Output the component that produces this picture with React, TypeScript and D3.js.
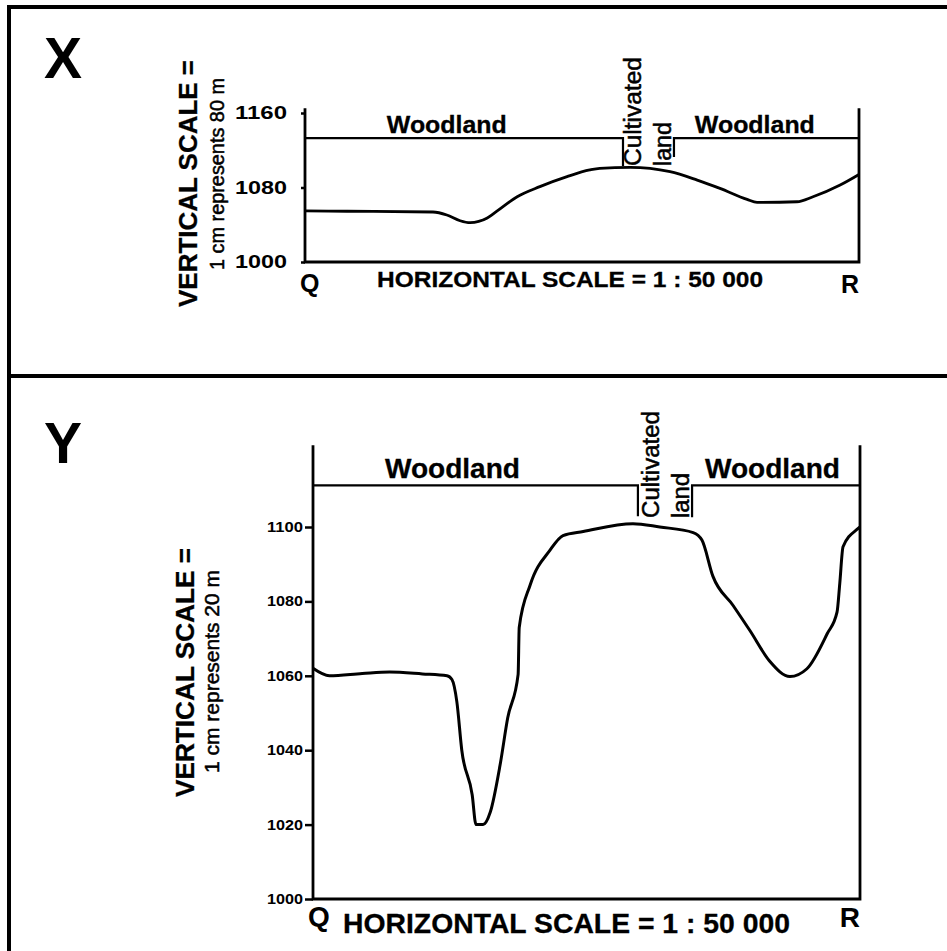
import React, { useEffect, useRef } from "react";
import * as d3 from "d3";

// distance along Q -> R in percent of section length, elevation in metres
const topDistance = [0, 7.6, 23.1, 25.6, 28, 29.8, 32.9, 34.7, 38.3, 42.4, 47.3, 51.4, 53.2, 58.7, 65.9, 70.8, 74.9, 79.8, 81.6, 88.8, 91.7, 96.6, 100];
const topElevation = [1055, 1054.5, 1053.7, 1050.5, 1044.3, 1042.2, 1047.2, 1054.8, 1070.1, 1080.9, 1091.6, 1098.8, 1100.6, 1101.7, 1097, 1088, 1079.1, 1067.3, 1064.1, 1064.7, 1070.1, 1082.7, 1094];

const bottomDistance = [0, 3, 9, 14, 20, 24.5, 25.4, 26.3, 27.2, 29.1, 29.8, 31.1, 32.4, 34.2, 35.6, 37.5, 37.7, 39.7, 43.3, 45.7, 49.4, 58.5, 63.4, 69.5, 71.1, 73.1, 76.8, 79.9, 83.5, 87.2, 90.3, 94, 95.8, 96.3, 96.9, 99.5, 100];
const bottomElevation = [1062, 1060, 1060.6, 1061, 1060.5, 1060, 1059, 1053, 1040, 1028, 1020, 1020, 1023.3, 1036, 1048.7, 1060.4, 1073, 1084.4, 1093.7, 1097.7, 1098.8, 1100.9, 1100, 1098.5, 1096.5, 1086.8, 1078.9, 1072.1, 1063.9, 1059.8, 1061.9, 1071.3, 1077.1, 1084.8, 1094.7, 1099.4, 1100];

const topTicks = [1000, 1080, 1160];
const bottomTicks = [1000, 1020, 1040, 1060, 1080, 1100];

// where woodland / cultivated land change along the section (percent)
const topLandBreaks = [57.4, 66.6];
const bottomLandBreaks = [59.4, 69.3];
const landLabels = ["Woodland", "Cultivated", "land", "Woodland"];

const FONT = "'Liberation Sans', Arial, Helvetica, sans-serif";

interface PanelConfig {
  letter: string;
  letterY: number;
  distance: number[];
  elevation: number[];
  ticks: number[];
  yDomain: [number, number];
  left: number;
  right: number;
  bottom: number;
  top: number;
  axisTopElev: number;
  tickSize: number;
  tickPadding: number;
  tickFont: number;
  tickLength: number;
  breaks: number[];
  barElev: number;
  stepElev: [number, number];
  woodCentres: [number, number];
  woodFont: number;
  woodLength: number;
  woodGap: number;
  cultFont: number;
  cultLength: number;
  landLength: number;
  cultOffset: number;
  landOffset: number;
  cultStartY: number;
  titleX: number;
  titleY: number;
  titleFont: number;
  titleLength: number;
  subX: number;
  subY: number;
  subLength: number;
  subtitle: string;
  qrFont: number;
  qY: number;
  hY: number;
  hX: number;
  hFont: number;
  hLength: number;
  profileWidth: number;
}

const panels: PanelConfig[] = [
  {
    letter: "X", letterY: 78,
    distance: topDistance, elevation: topElevation,
    ticks: topTicks, yDomain: [1000, 1160],
    left: 305, right: 859, bottom: 262, top: 113, axisTopElev: 1165,
    tickSize: 4, tickPadding: 14, tickFont: 18, tickLength: 52,
    breaks: topLandBreaks, barElev: 1133, stepElev: [1103, 1112.7],
    woodCentres: [25.6, 81.2], woodFont: 24, woodLength: 120, woodGap: 5,
    cultFont: 23, cultLength: 109, landLength: 44, cultOffset: 18, landOffset: -3, cultStartY: 166,
    titleX: 197, titleY: 183.5, titleFont: 26, titleLength: 247,
    subX: 224, subY: 174, subLength: 192, subtitle: "1 cm represents 80 m",
    qrFont: 25, qY: 292, hY: 287, hX: 570, hFont: 22, hLength: 386,
    profileWidth: 2.8,
  },
  {
    letter: "Y", letterY: 463,
    distance: bottomDistance, elevation: bottomElevation,
    ticks: bottomTicks, yDomain: [1000, 1100],
    left: 313, right: 860, bottom: 899, top: 527, axisTopElev: 1122,
    tickSize: 8, tickPadding: 2, tickFont: 14, tickLength: 36,
    breaks: bottomLandBreaks, barElev: 1111.2, stepElev: [1102.9, 1102.6],
    woodCentres: [25.5, 84], woodFont: 28, woodLength: 135, woodGap: 7,
    cultFont: 23, cultLength: 107, landLength: 45, cultOffset: 21, landOffset: -3, cultStartY: 518,
    titleX: 194, titleY: 672.5, titleFont: 25, titleLength: 249,
    subX: 219, subY: 671.5, subLength: 203, subtitle: "1 cm represents 20 m",
    qrFont: 28, qY: 926, hY: 933, hX: 566.5, hFont: 28, hLength: 447,
    profileWidth: 3,
  },
];

function drawPanel(svg: d3.Selection<SVGSVGElement, unknown, null, undefined>, cfg: PanelConfig) {
  const g = svg.append("g");
  const x = d3.scaleLinear().domain([0, 100]).range([cfg.left, cfg.right]);
  const y = d3.scaleLinear().domain(cfg.yDomain).range([cfg.bottom, cfg.top]);

  // y axis ticks
  const axis = g
    .append("g")
    .attr("transform", `translate(${cfg.left},0)`)
    .call(
      d3
        .axisLeft(y)
        .tickValues(cfg.ticks)
        .tickSize(cfg.tickSize)
        .tickPadding(cfg.tickPadding)
        .tickFormat(d3.format("d"))
    );
  axis.select(".domain").remove();
  axis.selectAll(".tick line").attr("stroke", "#000").attr("stroke-width", 2.5);
  axis
    .selectAll(".tick text")
    .attr("fill", "#000")
    .attr("font-family", FONT)
    .attr("font-weight", "bold")
    .attr("font-size", cfg.tickFont)
    .attr("textLength", cfg.tickLength)
    .attr("lengthAdjust", "spacingAndGlyphs");

  // frame: left axis, base line, right edge
  g.append("path")
    .attr(
      "d",
      `M${x(0)},${y(cfg.axisTopElev)}V${y(cfg.yDomain[0])}H${x(100)}V${y(cfg.axisTopElev)}`
    )
    .attr("fill", "none")
    .attr("stroke", "#000")
    .attr("stroke-width", 2.8);

  // land use bar
  const [b1, b2] = cfg.breaks;
  g.append("path")
    .attr(
      "d",
      `M${x(0)},${y(cfg.barElev)}H${x(b1)}V${y(cfg.stepElev[0])}` +
        `M${x(b2)},${y(cfg.stepElev[1])}V${y(cfg.barElev)}H${x(100)}`
    )
    .attr("fill", "none")
    .attr("stroke", "#000")
    .attr("stroke-width", 2.2);

  cfg.woodCentres.forEach((c, i) => {
    g.append("text")
      .attr("x", x(c))
      .attr("y", y(cfg.barElev) - cfg.woodGap)
      .attr("text-anchor", "middle")
      .attr("font-family", FONT)
      .attr("font-weight", "bold")
      .attr("font-size", cfg.woodFont)
      .attr("stroke", "#000")
      .attr("stroke-width", 0.3)
      .attr("textLength", cfg.woodLength)
      .attr("lengthAdjust", "spacingAndGlyphs")
      .text(landLabels[i === 0 ? 0 : 3]);
  });

  g.append("text")
    .attr("transform", `translate(${x(b1) + cfg.cultOffset},${cfg.cultStartY}) rotate(-90)`)
    .attr("font-family", FONT)
    .attr("font-size", cfg.cultFont)
    .attr("stroke", "#000")
    .attr("stroke-width", 0.5)
    .attr("textLength", cfg.cultLength)
    .attr("lengthAdjust", "spacingAndGlyphs")
    .text(landLabels[1]);
  g.append("text")
    .attr("transform", `translate(${x(b2) + cfg.landOffset},${cfg.cultStartY}) rotate(-90)`)
    .attr("font-family", FONT)
    .attr("font-size", cfg.cultFont)
    .attr("stroke", "#000")
    .attr("stroke-width", 0.5)
    .attr("textLength", cfg.landLength)
    .attr("lengthAdjust", "spacingAndGlyphs")
    .text(landLabels[2]);

  // profile
  const line = d3
    .line<number>()
    .x((i) => x(cfg.distance[i]))
    .y((i) => y(cfg.elevation[i]))
    .curve(d3.curveMonotoneX);
  g.append("path")
    .attr("d", line(d3.range(cfg.distance.length)))
    .attr("fill", "none")
    .attr("stroke", "#000")
    .attr("stroke-width", cfg.profileWidth)
    .attr("stroke-linejoin", "round");

  // letters and scale titles
  g.append("text")
    .attr("x", 44)
    .attr("y", cfg.letterY)
    .attr("font-family", FONT)
    .attr("font-weight", "bold")
    .attr("font-size", 57)
    .text(cfg.letter);

  g.append("text")
    .attr("transform", `translate(${cfg.titleX},${cfg.titleY}) rotate(-90)`)
    .attr("text-anchor", "middle")
    .attr("font-family", FONT)
    .attr("font-weight", "bold")
    .attr("font-size", cfg.titleFont)
    .attr("stroke", "#000")
    .attr("stroke-width", 0.3)
    .attr("textLength", cfg.titleLength)
    .attr("lengthAdjust", "spacingAndGlyphs")
    .text("VERTICAL SCALE =");

  g.append("text")
    .attr("transform", `translate(${cfg.subX},${cfg.subY}) rotate(-90)`)
    .attr("text-anchor", "middle")
    .attr("font-family", FONT)
    .attr("font-size", 20)
    .attr("stroke", "#000")
    .attr("stroke-width", 0.5)
    .attr("textLength", cfg.subLength)
    .attr("lengthAdjust", "spacingAndGlyphs")
    .text(cfg.subtitle);

  g.append("text")
    .attr("x", x(0) - 5)
    .attr("y", cfg.qY)
    .attr("font-family", FONT)
    .attr("font-weight", "bold")
    .attr("font-size", cfg.qrFont)
    .text("Q");
  g.append("text")
    .attr("x", x(100))
    .attr("y", cfg.qY + 1)
    .attr("text-anchor", "end")
    .attr("font-family", FONT)
    .attr("font-weight", "bold")
    .attr("font-size", cfg.qrFont)
    .text("R");

  g.append("text")
    .attr("x", cfg.hX)
    .attr("y", cfg.hY)
    .attr("text-anchor", "middle")
    .attr("font-family", FONT)
    .attr("font-weight", "bold")
    .attr("font-size", cfg.hFont)
    .attr("stroke", "#000")
    .attr("stroke-width", 0.3)
    .attr("textLength", cfg.hLength)
    .attr("lengthAdjust", "spacingAndGlyphs")
    .text("HORIZONTAL SCALE = 1 : 50 000");
}

const App: React.FC = () => {
  const svgRef = useRef<SVGSVGElement | null>(null);

  useEffect(() => {
    if (!svgRef.current) return;
    const svg = d3.select(svgRef.current);
    svg.selectAll("*").remove();

    const width = 947;
    const height = 951;
    svg.attr("width", width).attr("height", height);

    svg.append("rect").attr("width", width).attr("height", height).attr("fill", "#fff");

    // outer frame and divider
    svg
      .append("path")
      .attr("d", `M9,${height}V7H${width}M9,376H${width}`)
      .attr("fill", "none")
      .attr("stroke", "#000")
      .attr("stroke-width", 4);

    panels.forEach((p) => drawPanel(svg, p));
  }, []);

  return (
    <svg
      ref={svgRef}
      style={{ position: "absolute", left: 0, top: 0, display: "block" }}
    ></svg>
  );
};

export default App;
